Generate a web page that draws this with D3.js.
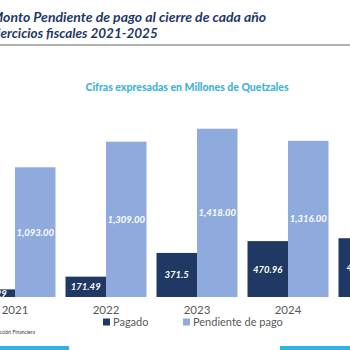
<!DOCTYPE html>
<html>
  <head>
    <script src="https://cdn.jsdelivr.net/npm/d3@7/dist/d3.min.js" charset="utf-8"></script>
    <style>
      body { margin: 0; background: #fff; }
      svg { display: block; }
    </style>
  </head>
  <body>
    <svg id="chart" width="350" height="350"></svg>
    <script>
      var years = ["2021", "2022", "2023", "2024", "2025"];
      var series = ["Pagado", "Pendiente de pago"];
      var pagado = [64.29, 171.49, 371.5, 470.96, 495.2];
      var pendiente = [1093, 1309, 1418, 1316, 1250];
      var colors = ["#203864", "#8faadc"];

      var svg = d3.select("#chart");
      var font = "Lato, 'Open Sans', sans-serif";

      // title block (slide is cropped at the left edge)
      svg.append("text").attr("x", -9).attr("y", 22)
        .attr("font-family", font).attr("font-size", 14)
        .attr("font-weight", "bold").attr("font-style", "italic")
        .attr("fill", "#1f3864")
        .text("Monto Pendiente de pago al cierre de cada año");
      svg.append("text").attr("x", -10).attr("y", 38)
        .attr("font-family", font).attr("font-size", 13.5)
        .attr("font-weight", "bold").attr("font-style", "italic")
        .attr("fill", "#1f3864")
        .text("Ejercicios fiscales 2021-2025");
      svg.append("line").attr("x1", 0).attr("x2", 350).attr("y1", 45).attr("y2", 45)
        .attr("stroke", "#9a9a9a").attr("stroke-width", 1.5);

      svg.append("text").attr("x", 187).attr("y", 91)
        .attr("text-anchor", "middle")
        .attr("font-family", font).attr("font-size", 10.5).attr("font-weight", 900)
        .attr("fill", "#3fb3d9")
        .text("Cifras expresadas en Millones de Quetzales");

      var x0 = d3.scaleBand().domain(years).range([-30.5, 424.5])
        .paddingInner(0.11).paddingOuter(0.055);
      var x1 = d3.scaleBand().domain(series).range([0, x0.bandwidth()]);
      var y = d3.scaleLinear().domain([0, 1500]).range([297, 119]);

      var rows = years.map((yr, i) => ({year: yr, values: [pagado[i], pendiente[i]]}));

      var g = svg.append("g");
      var grp = g.selectAll("g.yr").data(rows).enter().append("g")
        .attr("transform", d => `translate(${x0(d.year)},0)`);

      grp.selectAll("rect").data(d => d.values.map((v, j) => ({s: series[j], v: v, j: j})))
        .enter().append("rect")
        .attr("x", d => x1(d.s))
        .attr("width", x1.bandwidth())
        .attr("y", d => y(d.v))
        .attr("height", d => y(0) - y(d.v))
        .attr("fill", d => colors[d.j]);

      var fmtPend = d3.format(",.2f");
      grp.selectAll("text").data(d => d.values.map((v, j) => ({s: series[j], v: v, j: j})))
        .enter().append("text")
        .attr("x", d => x1(d.s) + x1.bandwidth() / 2)
        .attr("y", d => (y(d.v) + y(0)) / 2 + 3.5)
        .attr("text-anchor", "middle")
        .attr("font-family", font).attr("font-size", 9.5)
        .attr("font-weight", "bold").attr("font-style", "italic")
        .attr("fill", "#fff")
        .text(d => d.j === 0 ? String(d.v) : fmtPend(d.v));

      var axis = svg.append("g").attr("transform", "translate(0,297)")
        .call(d3.axisBottom(x0).tickSize(0).tickPadding(9));
      axis.select(".domain").remove();
      axis.selectAll("text").attr("font-family", font).attr("font-size", 11.5)
        .attr("fill", "#595959");

      // legend
      var legX = [103, 183];
      var leg = svg.append("g").selectAll("g").data(series).enter().append("g")
        .attr("transform", (d, i) => `translate(${legX[i]},322)`);
      leg.append("rect").attr("x", 0).attr("y", -3.5).attr("width", 7).attr("height", 7)
        .attr("fill", (d, i) => colors[i]);
      leg.append("text").attr("x", 10).attr("y", 4)
        .attr("font-family", font).attr("font-size", 11).attr("fill", "#595959")
        .text(d => d);

      svg.append("text").attr("x", 35).attr("y", 334).attr("text-anchor", "end")
        .attr("font-family", font).attr("font-size", 5).attr("fill", "#333")
        .text("Fuente: Dirección Financiera");

      svg.append("rect").attr("x", 0).attr("y", 346).attr("width", 69).attr("height", 4)
        .attr("fill", "#2bb5e0");
      svg.append("rect").attr("x", 280).attr("y", 346).attr("width", 70).attr("height", 4)
        .attr("fill", "#2bb5e0");
    </script>
  </body>
</html>
